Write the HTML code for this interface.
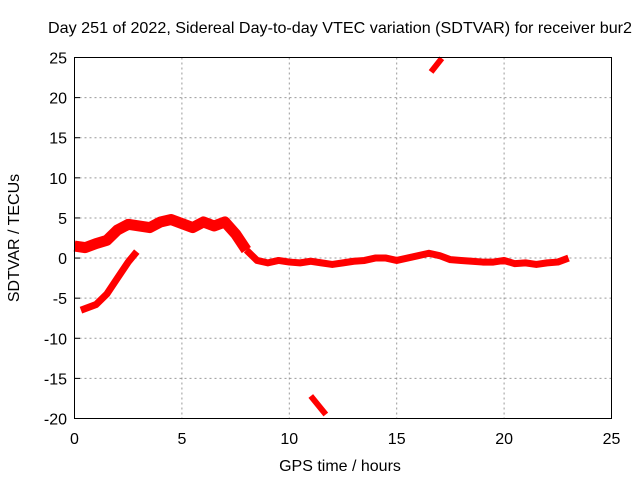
<!DOCTYPE html>
<html><head><meta charset="utf-8"><style>
body{margin:0;background:#fff}
svg{display:block;font-family:"Liberation Sans",sans-serif}
</style></head><body>
<svg id="chart" width="640" height="480" viewBox="0 0 640 480">
<rect width="640" height="480" fill="#fff"/>
<text x="340" y="33" font-size="16" text-anchor="middle" textLength="584" lengthAdjust="spacingAndGlyphs">Day 251 of 2022, Sidereal Day-to-day VTEC variation (SDTVAR) for receiver bur2</text>
<g id="grid"></g>
<g id="ticks"></g>
<g id="series"></g>
<rect x="74.5" y="57.5" width="537" height="361" fill="none" stroke="#000" stroke-width="1"/>
<text x="340" y="471" font-size="16" text-anchor="middle">GPS time / hours</text>
<text x="0" y="0" font-size="16" text-anchor="middle" transform="translate(19,238) rotate(-90)">SDTVAR / TECUs</text>
</svg>
<script>
const xTicks=[0,5,10,15,20,25];
const yTicks=[-20,-15,-10,-5,0,5,10,15,20,25];
const mainHours=[0,0.5,1,1.5,2,2.5,3,3.5,4,4.5,5,5.5,6,6.5,7,7.5,8,8.5,9,9.5,10,10.5,11,11.5,12,12.5,13,13.5,14,14.5,15,15.5,16,16.5,17,17.5,18,18.5,19,19.5,20,20.5,21,21.5,22,22.5,23];
const mainValues=[1.5,1.3,1.8,2.2,3.5,4.2,4.0,3.8,4.5,4.8,4.3,3.8,4.5,4.0,4.5,3.0,1.0,-0.3,-0.6,-0.3,-0.5,-0.6,-0.4,-0.6,-0.8,-0.6,-0.4,-0.3,0,0,-0.3,0,0.3,0.6,0.3,-0.2,-0.3,-0.4,-0.5,-0.5,-0.3,-0.7,-0.6,-0.8,-0.6,-0.5,0];
const seg2Hours=[0.3,1,1.5,2,2.5,2.9];
const seg2Values=[-6.5,-5.8,-4.5,-2.5,-0.5,0.8];
const seg3Hours=[11,11.7];
const seg3Values=[-17.2,-19.5];
const seg4Hours=[16.6,17.1];
const seg4Values=[23.2,24.9];
const X=v=>74.5+v*(537/25);
const Y=v=>418.5-(v+20)*(361/45);
const NS='http://www.w3.org/2000/svg';
function mk(t,a,p){const e=document.createElementNS(NS,t);for(const k in a)e.setAttribute(k,a[k]);p.appendChild(e);return e;}
const grid=document.getElementById('grid'),ticks=document.getElementById('ticks'),ser=document.getElementById('series');
xTicks.forEach(t=>{
 const x=X(t);
 if(t>0&&t<25){const l=mk('line',{x1:x,x2:x,y1:57.5,y2:418.5,stroke:'#999','stroke-dasharray':'2,3'},grid);
 
 }
 const tx=mk('text',{x:x,y:444,'font-size':16,'text-anchor':'middle'},ticks);tx.textContent=t;
 
 
});
yTicks.forEach(t=>{
 const y=Y(t);
 if(t>-20&&t<25){const l=mk('line',{x1:74.5,x2:611.5,y1:y,y2:y,stroke:'#999','stroke-dasharray':'2,3'},grid);
 
 }
 mk('line',{x1:74.5,x2:80,y1:y,y2:y,stroke:'#000'},ticks);
 const tx=mk('text',{x:67,y:y+6,'font-size':16,'text-anchor':'end'},ticks);tx.textContent=t;
 
 
});
function draw(hs,vs,w,name){
 const pts=hs.map((h,i)=>X(h)+','+Y(vs[i])).join(' ');
 const p=mk('polyline',{points:pts,fill:'none',stroke:'#f00','stroke-width':w,'stroke-linejoin':'round','stroke-linecap':'butt'},ser);
 
 
}
draw(mainHours.slice(0,17),mainValues.slice(0,17),11,'sdtvar-series-main-early');
draw(mainHours.slice(16),mainValues.slice(16),7,'sdtvar-series-main-late');
draw(seg2Hours,seg2Values,7,'sdtvar-series-segment-2');
draw(seg3Hours,seg3Values,6,'sdtvar-series-segment-3');
draw(seg4Hours,seg4Values,6,'sdtvar-series-segment-4');
</script>
</body></html>
